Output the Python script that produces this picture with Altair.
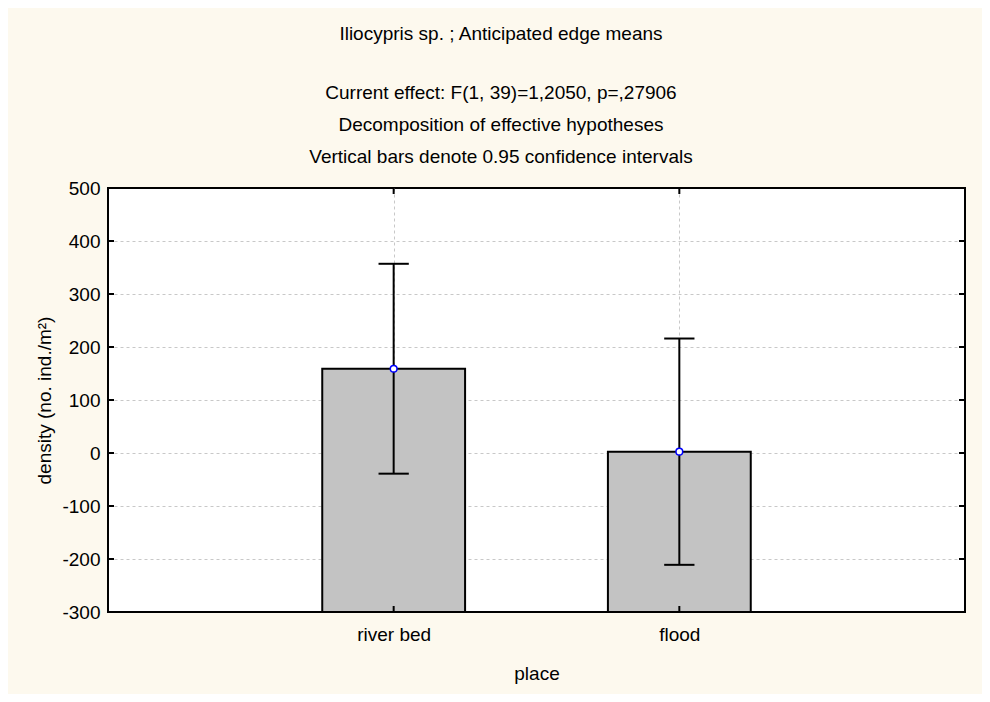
import altair as alt
import pandas as pd

places = ["river bed", "flood"]
place_pos = [1, 2]
means = [159, 2.5]
ci_low = [-39, -211]
ci_high = [357, 216]
y_ticks = [-300, -200, -100, 0, 100, 200, 300, 400, 500]

title_main = "Iliocypris sp. ; Anticipated edge means"
title_sub = [
    "Current effect: F(1, 39)=1,2050, p=,27906",
    "Decomposition of effective hypotheses",
    "Vertical bars denote 0.95 confidence intervals",
]

df = pd.DataFrame({"place": places, "pos": place_pos, "mean": means,
                   "lo": ci_low, "hi": ci_high})
ydf = pd.DataFrame({"v": y_ticks[1:-1]})

W, H = 857, 424
FONT = "Liberation Sans"
FS = 19
xscale = alt.Scale(domain=[0, 3], nice=False, zero=False)
yscale = alt.Scale(domain=[-300, 500], nice=False, zero=False)

label_expr = "datum.value == 1 ? 'river bed' : (datum.value == 2 ? 'flood' : '')"
grid_op = {"condition": {"test": "datum.value == 500 || datum.value == -300", "value": 0},
           "value": 1}

base = alt.Chart(df)

bars = base.transform_calculate(
    x0="datum.pos - 0.25", x1="datum.pos + 0.25"
).mark_bar(color="#c3c3c3", stroke="black", strokeWidth=2).encode(
    x=alt.X("x0:Q", scale=xscale, title="place",
            axis=alt.Axis(values=place_pos, labelExpr=label_expr, grid=True,
                          gridDash=[3, 3], gridColor="#c8c8c8", domain=False,
                          ticks=False, labelFontSize=FS, labelFont=FONT,
                          labelColor="black", labelPadding=13,
                          titleFontSize=FS, titleFont=FONT, titleFontWeight="normal",
                          titleColor="black", titlePadding=20)),
    x2="x1:Q",
    y=alt.Y("mean:Q", scale=yscale, title="density (no. ind./m²)",
            axis=alt.Axis(values=y_ticks, grid=True, gridDash=[3, 3],
                          gridColor="#c8c8c8", gridOpacity=grid_op,
                          domain=False, ticks=False,
                          labelExpr="'' + datum.value",
                          labelFontSize=FS, labelFont=FONT, labelColor="black",
                          labelPadding=8, titleFontSize=FS, titleFont=FONT,
                          titleFontWeight="normal", titleColor="black",
                          titlePadding=7)),
    y2=alt.Y2(datum=-300),
)

err = base.mark_rule(color="black", strokeWidth=2).encode(
    x=alt.X("pos:Q", scale=xscale), y=alt.Y("lo:Q", scale=yscale), y2="hi:Q")

caps_hi = base.transform_calculate(
    c0="datum.pos - 0.053", c1="datum.pos + 0.053"
).mark_rule(color="black", strokeWidth=2).encode(
    x=alt.X("c0:Q", scale=xscale), x2="c1:Q", y=alt.Y("hi:Q", scale=yscale))

caps_lo = base.transform_calculate(
    c0="datum.pos - 0.053", c1="datum.pos + 0.053"
).mark_rule(color="black", strokeWidth=2).encode(
    x=alt.X("c0:Q", scale=xscale), x2="c1:Q", y=alt.Y("lo:Q", scale=yscale))

pts = base.mark_point(shape="circle", filled=True, fill="white", stroke="#0000ff",
                      strokeWidth=1.5, size=45, opacity=1).encode(
    x=alt.X("pos:Q", scale=xscale), y=alt.Y("mean:Q", scale=yscale))

yt = alt.Chart(ydf)
ticks_left = yt.mark_rule(color="black", strokeWidth=2).encode(
    x=alt.value(0), x2=alt.value(6), y=alt.Y("v:Q", scale=yscale))
ticks_right = yt.mark_rule(color="black", strokeWidth=2).encode(
    x=alt.value(W - 6), x2=alt.value(W), y=alt.Y("v:Q", scale=yscale))
ticks_bottom = base.mark_rule(color="black", strokeWidth=2).encode(
    x=alt.X("pos:Q", scale=xscale), y=alt.value(H - 6), y2=alt.value(H))
ticks_top = base.mark_rule(color="black", strokeWidth=2).encode(
    x=alt.X("pos:Q", scale=xscale), y=alt.value(0), y2=alt.value(6))

chart = alt.layer(
    bars, err, caps_hi, caps_lo, pts,
    ticks_left, ticks_right, ticks_bottom, ticks_top
).properties(
    width=W, height=H,
    autosize=alt.AutoSizeParams(type="none"),
    padding={"left": 100, "top": 180, "right": 17, "bottom": 82},
    background="#fdf9ee",
    title=alt.Title(text=title_main, subtitle=title_sub, font=FONT, fontSize=FS,
                    fontWeight="normal", color="black",
                    subtitleFont=FONT, subtitleFontSize=FS, subtitleColor="black",
                    subtitleLineHeight=32, subtitlePadding=40,
                    anchor="middle", frame="bounds", offset=12),
).configure_view(
    fill="white", stroke="black", strokeWidth=2
)

chart.save("out.html", embed_options={"renderer": "svg", "actions": False})
